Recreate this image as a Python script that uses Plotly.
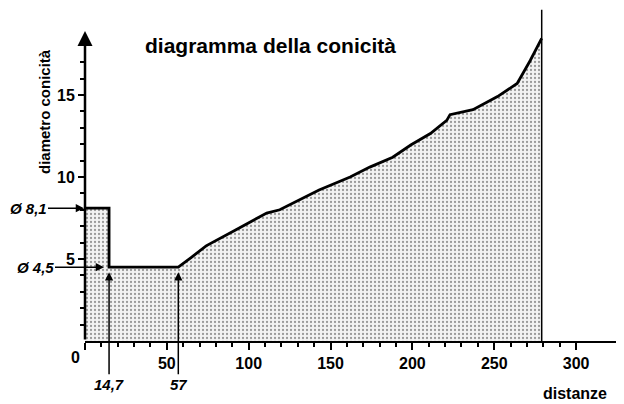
import plotly.graph_objects as go

# ---- data ----
distanze = [0, 14.7, 14.7, 57, 65, 74, 92, 111, 119, 143, 162, 174, 188, 199,
            211, 221, 223, 237, 252, 264, 268, 272, 279]
diametro = [8.1, 8.1, 4.5, 4.5, 5.1, 5.8, 6.77, 7.8, 8.0, 9.2, 10.0, 10.6, 11.2,
            11.95, 12.65, 13.45, 13.8, 14.1, 14.9, 15.7, 16.4, 17.1, 18.45]

x_major = [0, 50, 100, 150, 200, 250, 300]
x_major_text = ["", "50", "100", "150", "200", "250", "300"]
x_minor = [v for v in range(10, 300, 10) if v % 50 != 0]
y_major = [5, 10, 15]
y_minor = [v for v in range(1, 18) if v % 5 != 0]

d_start, d_step = 8.1, 4.5          # Ø 8,1 / Ø 4,5
x_step, x_cone = 14.7, 57           # 14,7 / 57
x_end = 279                         # end of the piece
y_axis_top = 18.9

X_RANGE = [0, 325]
Y_RANGE = [0, 20.3]

# the page body has an 8px margin, so the figure is 8px smaller
OFF = 8
W, H = 624 - OFF, 404 - OFF
ML, MR, MT, MB = 77, 7, 0, 63
PW, PH = W - ML - MR, H - MT - MB

FONT = "Liberation Sans"


def px_x(p):
    """screen pixel x -> paper x"""
    return (p - OFF - ML) / PW


def px_y(p):
    """screen pixel y -> paper y"""
    return (H - MB - (p - OFF)) / PH


def dx(v):
    return (v - X_RANGE[0]) / (X_RANGE[1] - X_RANGE[0])


def dy(v):
    return (v - Y_RANGE[0]) / (Y_RANGE[1] - Y_RANGE[0])


fig = go.Figure()
fig.add_trace(go.Scatter(
    x=distanze, y=diametro, mode="lines",
    line=dict(color="black", width=2.8),
    fill="tozeroy",
    fillcolor="rgba(0,0,0,0)",
    fillpattern=dict(shape=".", fgcolor="#404040", bgcolor="#f3f3f3",
                     size=4, solidity=0.25),
    hoverinfo="skip", showlegend=False,
))

# right vertical end line
fig.add_shape(type="line", xref="x", yref="y", x0=x_end, x1=x_end,
              y0=-0.25, y1=20.2, line=dict(color="black", width=1.5))

annotations = []
# y axis with arrow head
annotations.append(dict(xref="x", yref="y", axref="x", ayref="y",
                        x=0, y=y_axis_top, ax=0, ay=0, text="",
                        showarrow=True, arrowhead=2, arrowsize=1.2,
                        arrowwidth=2.5, arrowcolor="black"))

bold = dict(family=FONT, color="black")


def label(x, y, text, size, **kw):
    return dict(xref="paper", yref="paper", x=px_x(x), y=px_y(y),
                xanchor="center", yanchor="middle", text=text,
                showarrow=False, font=dict(size=size, **bold), **kw)


annotations.append(label(270, 45, "<b>diagramma della conicità</b>", 21))
annotations.append(label(45, 112, "<b>diametro conicità</b>", 15, textangle=-90))
annotations.append(label(575, 393, "<b>distanze</b>", 16))
annotations.append(label(75, 357, "<b>0</b>", 16))

# Ø labels with arrows pointing right
annotations.append(dict(xref="paper", yref="paper", x=px_x(84), y=dy(d_start),
                        ax=-56, ay=0, text="<b><i>Ø 8,1</i></b>",
                        showarrow=True, arrowhead=2, arrowsize=1.1,
                        arrowwidth=1.5, arrowcolor="black",
                        font=dict(size=15, **bold)))
annotations.append(dict(xref="paper", yref="paper", x=px_x(104), y=dy(d_step),
                        ax=-69, ay=0, text="<b><i>Ø 4,5</i></b>",
                        showarrow=True, arrowhead=2, arrowsize=1.1,
                        arrowwidth=1.5, arrowcolor="black",
                        font=dict(size=15, **bold)))
# distance labels with upward arrows
for xv, txt in [(x_step, "14,7"), (x_cone, "57")]:
    annotations.append(dict(xref="paper", yref="paper", x=dx(xv), y=dy(d_step) - 0.015,
                            ax=0, ay=112, text=f"<b><i>{txt}</i></b>",
                            showarrow=True, arrowhead=2, arrowsize=1.1,
                            arrowwidth=1.5, arrowcolor="black",
                            font=dict(size=15, **bold)))

fig.update_layout(
    width=W, height=H, autosize=False,
    margin=dict(l=ML, r=MR, t=MT, b=MB, pad=0),
    paper_bgcolor="white", plot_bgcolor="white",
    showlegend=False,
    annotations=annotations,
    xaxis=dict(range=X_RANGE, showgrid=False, zeroline=False,
               showline=True, linecolor="black", linewidth=2,
               ticks="outside", ticklen=7, tickwidth=2, tickcolor="black",
               tickvals=x_major, ticktext=x_major_text,
               tickfont=dict(family=FONT, size=16, color="black", weight="bold"),
               minor=dict(tickvals=x_minor, ticks="outside", ticklen=4,
                          tickwidth=1.5, tickcolor="black", showgrid=False)),
    yaxis=dict(range=Y_RANGE, showgrid=False, zeroline=False, showline=False,
               ticks="outside", ticklen=6, tickwidth=2, tickcolor="black",
               tickvals=y_major,
               tickfont=dict(family=FONT, size=16, color="black", weight="bold"),
               minor=dict(tickvals=y_minor, ticks="outside", ticklen=4,
                          tickwidth=1.5, tickcolor="black", showgrid=False)),
)

fig.write_html("out.html")
